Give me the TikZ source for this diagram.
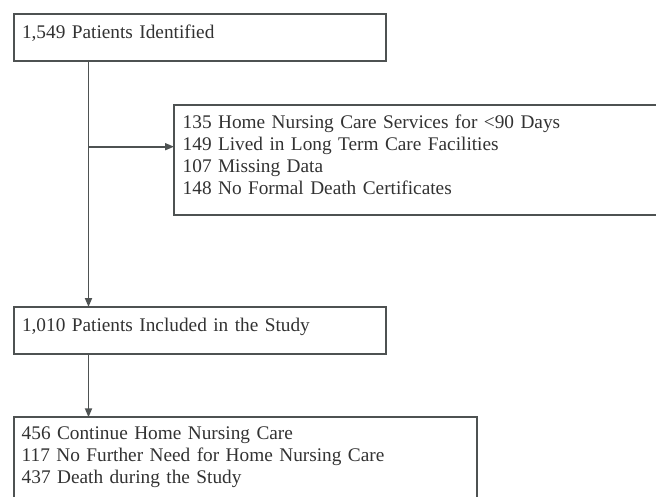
\documentclass[tikz,border=0pt]{standalone}
\usepackage{fontspec}
\setmainfont{Liberation Serif}
\usetikzlibrary{arrows.meta,calc}

\definecolor{boxline}{RGB}{78,82,82}
\definecolor{boxtext}{RGB}{50,50,50}

\begin{document}
\begin{tikzpicture}[
  x=1pt, y=-1pt,
  every node/.style = {font=\fontsize{19.3}{21.9}\selectfont, text=boxtext},
  flowbox/.style    = {draw=boxline, line width=1.7pt, anchor=north west,
                        align=left, inner ysep=0pt, outer sep=0pt},
  arr/.style        = {-{Triangle[length=9pt,width=7pt]}, line width=1.7pt,
                        draw=boxline},
]
\clip (0,0) rectangle (656,497);

% ── BOXES ─────────────────────────────────────────────────────────────────────
\node[flowbox, inner xsep=8pt, text width=356pt,
      text height=25pt, text depth=22pt] (ident) at (14,14)
  {1,549 Patients Identified};

\node[flowbox, inner xsep=8.7pt, text width=480pt,
      text height=24pt, text depth=86.3pt] (excl) at (174,104.7)
  {135 Home Nursing Care Services for <90 Days\\
   149 Lived in Long Term Care Facilities\\
   107 Missing Data\\
   148 No Formal Death Certificates};

\node[flowbox, inner xsep=8pt, text width=356pt,
      text height=24.7pt, text depth=22.3pt] (incl) at (14,307)
  {1,010 Patients Included in the Study};

\node[flowbox, inner xsep=7.7pt, text width=447.6pt,
      text height=22pt, text depth=75pt] (outc) at (14,417.3)
  {456 Continue Home Nursing Care\\
   117 No Further Need for Home Nursing Care\\
   437 Death during the Study};

% ── CONNECTIONS ───────────────────────────────────────────────────────────────
\coordinate (trunk) at ($(ident.south west)+(74.5,0)$);
\coordinate (split) at (trunk |- 0,146.7);

\draw[arr] (trunk) -- (trunk |- incl.north);
\draw[arr] (split) -- (split -| excl.west);
\draw[arr] (trunk |- incl.south) -- (trunk |- outc.north);

\end{tikzpicture}
\end{document}
